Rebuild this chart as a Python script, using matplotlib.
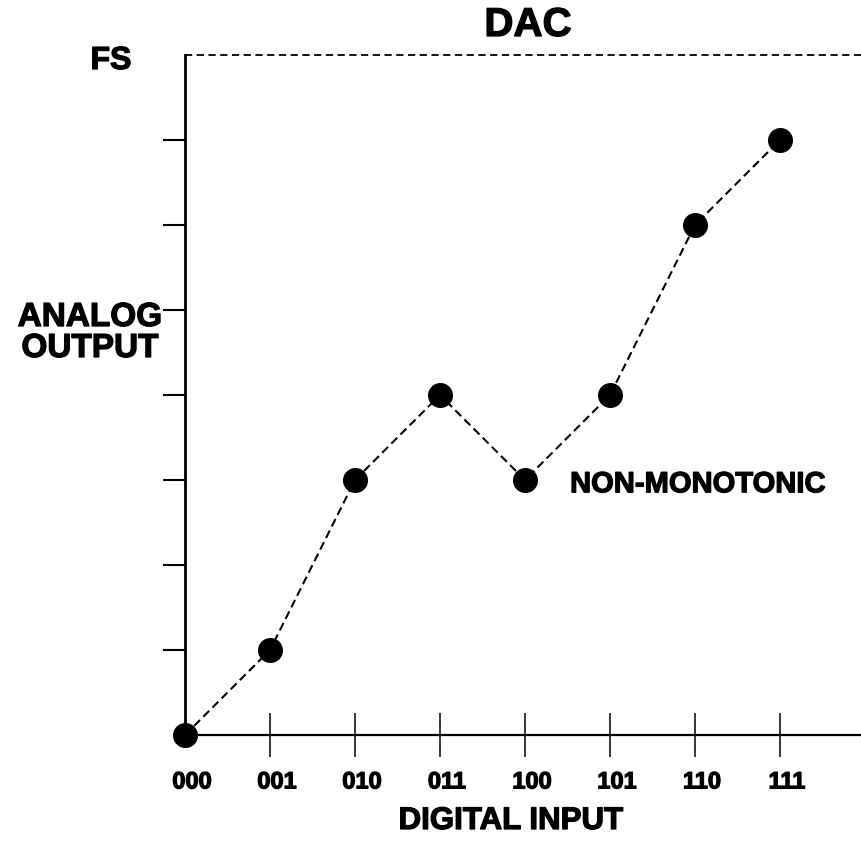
import matplotlib
matplotlib.use("Agg")
import matplotlib.pyplot as plt
from matplotlib.transforms import ScaledTranslation
import matplotlib.patheffects as pe

plt.rcParams['font.family'] = ['Liberation Sans', 'DejaVu Sans']
plt.rcParams['font.weight'] = 'bold'

# Data
codes = ['000', '001', '010', '011', '100', '101', '110', '111']
values = [0, 1, 3, 4, 3, 4, 6, 7]
y_ticks = [1, 2, 3, 4, 5, 6, 7]
full_scale = 8
title = 'DAC'
xlabel = 'DIGITAL INPUT'
ylabel = 'ANALOG\nOUTPUT'
fs_label = 'FS'
note = 'NON-MONOTONIC'

W, H = 861, 846
fig = plt.figure(figsize=(W / 100, H / 100), dpi=100)
ax = fig.add_axes([185 / W, 111 / H, 676 / W, 680 / H])

heavy = [pe.withStroke(linewidth=0.9, foreground='black')]

x = list(range(len(codes)))
ax.plot(x, values, color='black', lw=1.5, linestyle=(0, (4, 2.2)),
        marker='o', ms=17, markerfacecolor='black', markeredgecolor='black',
        clip_on=False, zorder=5)

ax.set_xlim(0, 676 / 85)
ax.set_ylim(0, full_scale)

for s in ['top', 'right']:
    ax.spines[s].set_visible(False)
ax.spines['left'].set_linewidth(2.0)
ax.spines['bottom'].set_linewidth(1.6)

# Full-scale dashed line
ax.axhline(full_scale, color='black', lw=1.3, linestyle=(0, (4, 2.5)), clip_on=False)

# x ticks
ax.set_xticks(x)
ax.set_xticklabels(codes, fontsize=17, fontweight='bold')
ax.tick_params(axis='x', direction='inout', length=31, width=1.1, pad=10)
ax.get_xticklines()[0].set_visible(False)
ax.get_xticklines()[1].set_visible(False)
off = ScaledTranslation(7 / 100, 0, fig.dpi_scale_trans)
for lab in ax.get_xticklabels():
    lab.set_transform(lab.get_transform() + off)
    lab.set_path_effects(heavy)

# y ticks (asymmetric: long outside, short inside)
ax.set_yticks(y_ticks)
ax.set_yticklabels([])
ax.tick_params(axis='y', which='major', direction='out', length=16, width=1.5)
ax.set_yticks(y_ticks, minor=True)
ax.tick_params(axis='y', which='minor', direction='in', length=8, width=1.5)

# Texts
fig.text(528 / W, 1 - 25 / H, title, fontsize=29, fontweight='bold',
         ha='center', va='center', path_effects=heavy)
fig.text(511 / W, 1 - 821 / H, xlabel, fontsize=22.5, fontweight='bold',
         ha='center', va='center', path_effects=heavy)
fig.text(90 / W, 1 - 333 / H, ylabel, fontsize=24, fontweight='bold',
         ha='center', va='center', multialignment='center', linespacing=1.0,
         path_effects=heavy)
fig.text(111 / W, 1 - 61 / H, fs_label, fontsize=23, fontweight='bold',
         ha='center', va='center', path_effects=heavy)
ax.text(4.53, 2.95, note, fontsize=21, fontweight='bold', ha='left', va='center',
        path_effects=heavy)

fig.savefig('out.png', dpi=100)
